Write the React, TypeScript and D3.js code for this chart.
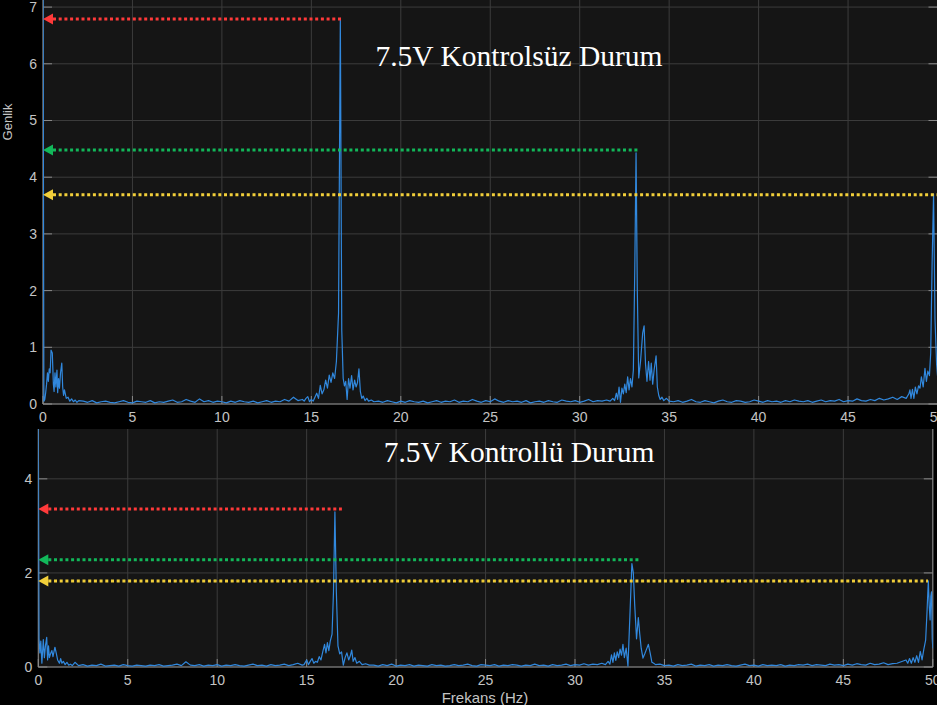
import React from "react";
import * as d3 from "d3";

const W = 937;
const H = 705;

type P = [number, number];

// ---------- shared axis ticks ----------
const xTicks = [0, 5, 10, 15, 20, 25, 30, 35, 40, 45, 50];
const topYTicks = [0, 1, 2, 3, 4, 5, 6, 7];
const bottomYTicks = [0, 2, 4];

const topTitle = "7.5V Kontrolsüz Durum";
const bottomTitle = "7.5V Kontrollü Durum";
const xLabel = "Frekans (Hz)";
const yLabel = "Genlik";

// ---------- TOP panel (uncontrolled) ----------
const topLow: P[] = [
  [0, 7.6], [0.05, 0.05], [0.1, 0.08], [0.15, 0.2], [0.2, 0.35], [0.25, 0.55], [0.3, 0.4],
  [0.35, 0.62], [0.4, 0.55], [0.45, 0.95], [0.52, 0.9], [0.58, 0.35], [0.62, 0.22],
  [0.67, 0.55], [0.72, 0.3], [0.78, 0.6], [0.82, 0.2], [0.87, 0.45], [0.92, 0.28],
  [0.98, 0.55], [1.05, 0.72], [1.1, 0.3], [1.15, 0.15], [1.2, 0.25], [1.3, 0.1],
  [1.4, 0.12], [1.5, 0.05], [1.6, 0.09], [1.7, 0.04], [1.8, 0.07], [1.9, 0.03], [2.0, 0.06],
];
const topNoiseAStart = 2.25;
const topNoiseA = [
  0.05, 0.03, 0.06, 0.02, 0.04, 0.05, 0.03, 0.02, 0.04, 0.06, 0.03, 0.02, 0.05, 0.04, 0.03,
  0.06, 0.02, 0.04, 0.03, 0.05, 0.07, 0.03, 0.04, 0.08, 0.05, 0.03, 0.09, 0.04, 0.06, 0.03,
  0.05, 0.04, 0.02, 0.05, 0.03, 0.06, 0.04, 0.03, 0.05, 0.02, 0.04, 0.06, 0.03, 0.05, 0.04,
  0.08, 0.05, 0.12, 0.06, 0.08,
];
const topPeak1: P[] = [
  [14.6, 0.05], [14.7, 0.1], [14.8, 0.13], [14.9, 0.04], [15.0, 0.08], [15.1, 0.05],
  [15.2, 0.12], [15.3, 0.19], [15.4, 0.1], [15.5, 0.33], [15.6, 0.18], [15.7, 0.25],
  [15.8, 0.42], [15.9, 0.28], [16.0, 0.51], [16.1, 0.38], [16.2, 0.55], [16.3, 0.45],
  [16.4, 0.75], [16.52, 1.6], [16.62, 6.8], [16.7, 1.3], [16.78, 0.45], [16.85, 0.32],
  [16.92, 0.4], [17.0, 0.08], [17.08, 0.45], [17.16, 0.28], [17.25, 0.5], [17.33, 0.25],
  [17.42, 0.42], [17.5, 0.3], [17.58, 0.38], [17.66, 0.62], [17.74, 0.22], [17.82, 0.1],
  [17.9, 0.14], [18.0, 0.06], [18.1, 0.1], [18.2, 0.05], [18.35, 0.07], [18.5, 0.04],
];
const topNoiseBStart = 18.75;
const topNoiseB = [
  0.05, 0.03, 0.06, 0.04, 0.02, 0.05, 0.03, 0.06, 0.04, 0.03, 0.05, 0.02, 0.04, 0.06, 0.03,
  0.05, 0.04, 0.07, 0.03, 0.05, 0.04, 0.08, 0.05, 0.03, 0.06, 0.04, 0.09, 0.05, 0.03, 0.06,
  0.04, 0.05, 0.03, 0.06, 0.02, 0.04, 0.05, 0.03, 0.06, 0.04, 0.03, 0.07, 0.05, 0.04, 0.06,
  0.03, 0.05, 0.08, 0.04, 0.06, 0.05, 0.07,
];
const topPeak2: P[] = [
  [31.7, 0.05], [31.85, 0.1], [31.95, 0.06], [32.05, 0.19], [32.12, 0.08], [32.2, 0.3],
  [32.28, 0.03], [32.36, 0.28], [32.44, 0.18], [32.52, 0.35], [32.6, 0.2], [32.68, 0.48],
  [32.76, 0.25], [32.84, 0.45], [32.92, 0.3], [33.0, 0.6], [33.08, 2.4], [33.15, 4.43],
  [33.22, 2.0], [33.3, 0.46], [33.4, 0.75], [33.52, 1.25], [33.6, 1.38], [33.68, 0.7],
  [33.76, 0.4], [33.85, 0.75], [33.93, 0.42], [34.0, 0.72], [34.08, 0.35], [34.16, 0.6],
  [34.27, 0.85], [34.34, 0.3], [34.42, 0.15], [34.5, 0.08], [34.6, 0.12], [34.7, 0.06],
  [34.85, 0.1], [35.0, 0.05],
];
const topNoiseCStart = 35.25;
const topNoiseC = [
  0.04, 0.06, 0.03, 0.05, 0.08, 0.04, 0.03, 0.06, 0.04, 0.02, 0.05, 0.07, 0.04, 0.03, 0.06,
  0.05, 0.03, 0.04, 0.07, 0.05, 0.03, 0.06, 0.04, 0.05, 0.03, 0.06, 0.04, 0.07, 0.05, 0.04,
  0.06, 0.03, 0.05, 0.07, 0.04, 0.06, 0.05, 0.08, 0.04, 0.06, 0.05, 0.09, 0.06, 0.05, 0.08,
  0.06, 0.1, 0.07, 0.09, 0.12, 0.08, 0.13, 0.1,
];
const topPeak3: P[] = [
  [48.4, 0.18], [48.46, 0.25], [48.52, 0.1], [48.6, 0.26], [48.68, 0.1], [48.76, 0.3],
  [48.85, 0.18], [48.94, 0.32], [49.02, 0.28], [49.1, 0.48], [49.2, 0.3], [49.3, 0.63],
  [49.38, 0.4], [49.46, 0.58], [49.55, 0.5], [49.62, 0.9], [49.7, 2.5], [49.78, 3.7],
  [49.86, 1.5], [49.95, 0.7], [50.0, 0.5],
];

// ---------- BOTTOM panel (controlled) ----------
const botLow: P[] = [
  [0, 5.3], [0.04, 0.6], [0.09, 0.3], [0.14, 0.55], [0.2, 0.08], [0.28, 0.58], [0.34, 0.2],
  [0.4, 0.45], [0.47, 0.63], [0.52, 0.15], [0.57, 0.45], [0.62, 0.2], [0.7, 0.3],
  [0.76, 0.35], [0.82, 0.22], [0.93, 0.42], [1.0, 0.3], [1.08, 0.15], [1.18, 0.08],
  [1.25, 0.18], [1.32, 0.08], [1.4, 0.12], [1.5, 0.05], [1.6, 0.1], [1.7, 0.04],
  [1.8, 0.06], [1.9, 0.03], [2.05, 0.1],
];
const botNoiseAStart = 2.25;
const botNoiseA = [
  0.03, 0.05, 0.02, 0.04, 0.03, 0.06, 0.02, 0.03, 0.04, 0.02, 0.05, 0.03, 0.02, 0.04, 0.03,
  0.02, 0.04, 0.03, 0.05, 0.02, 0.03, 0.04, 0.06, 0.03, 0.11, 0.04, 0.03, 0.05, 0.02, 0.04,
  0.03, 0.05, 0.02, 0.04, 0.03, 0.05, 0.03, 0.02, 0.04, 0.06, 0.03, 0.04, 0.02, 0.05, 0.03,
  0.04, 0.06, 0.03, 0.05, 0.08, 0.04,
];
const botPeak1: P[] = [
  [14.85, 0.05], [15.0, 0.15], [15.1, 0.05], [15.2, 0.12], [15.3, 0.18], [15.4, 0.08],
  [15.5, 0.12], [15.6, 0.1], [15.7, 0.22], [15.8, 0.15], [15.9, 0.32], [16.0, 0.48],
  [16.08, 0.3], [16.16, 0.52], [16.24, 0.35], [16.32, 0.55], [16.42, 0.7], [16.5, 1.6],
  [16.58, 3.3], [16.66, 1.6], [16.75, 0.45], [16.85, 0.28], [16.95, 0.32], [17.05, 0.04],
  [17.15, 0.2], [17.25, 0.3], [17.35, 0.15], [17.45, 0.25], [17.52, 0.36], [17.6, 0.12],
  [17.7, 0.2], [17.8, 0.08], [17.95, 0.12], [18.1, 0.05], [18.3, 0.07], [18.5, 0.04],
];
const botNoiseBStart = 18.75;
const botNoiseB = [
  0.04, 0.02, 0.05, 0.03, 0.06, 0.02, 0.04, 0.03, 0.05, 0.02, 0.04, 0.03, 0.02, 0.05, 0.03,
  0.04, 0.02, 0.03, 0.05, 0.03, 0.04, 0.06, 0.03, 0.02, 0.05, 0.04, 0.03, 0.05, 0.02, 0.04,
  0.03, 0.05, 0.04, 0.02, 0.04, 0.03, 0.06, 0.03, 0.04, 0.02, 0.05, 0.03, 0.04, 0.06, 0.03,
  0.05, 0.04, 0.07, 0.04, 0.06, 0.05, 0.08,
];
const botPeak2: P[] = [
  [31.7, 0.05], [31.85, 0.12], [31.95, 0.06], [32.04, 0.26], [32.12, 0.1], [32.2, 0.3],
  [32.28, 0.14], [32.36, 0.32], [32.44, 0.2], [32.52, 0.38], [32.6, 0.25], [32.68, 0.48],
  [32.76, 0.2], [32.86, 0.4], [32.96, 0.02], [33.08, 1.2], [33.18, 2.2], [33.26, 2.0],
  [33.34, 1.3], [33.44, 0.6], [33.54, 1.05], [33.62, 0.7], [33.7, 0.4], [33.8, 0.19],
  [33.9, 0.28], [34.0, 0.38], [34.1, 0.48], [34.2, 0.3], [34.3, 0.1], [34.4, 0.08],
  [34.5, 0.05],
];
const botNoiseCStart = 34.75;
const botNoiseC = [
  0.06, 0.03, 0.04, 0.02, 0.05, 0.03, 0.04, 0.06, 0.02, 0.04, 0.03, 0.05, 0.02, 0.04, 0.03,
  0.05, 0.03, 0.02, 0.04, 0.06, 0.03, 0.04, 0.02, 0.05, 0.03, 0.04, 0.03, 0.05, 0.02, 0.04,
  0.03, 0.05, 0.04, 0.06, 0.03, 0.05, 0.04, 0.03, 0.06, 0.04, 0.05, 0.03, 0.06, 0.04, 0.07,
  0.05, 0.04, 0.08, 0.05, 0.06, 0.09, 0.05, 0.07, 0.08,
];
const botPeak3: P[] = [
  [48.5, 0.15], [48.6, 0.08], [48.7, 0.18], [48.8, 0.08], [48.9, 0.2], [49.0, 0.1],
  [49.1, 0.24], [49.2, 0.1], [49.3, 0.33], [49.4, 0.15], [49.5, 0.38], [49.6, 0.57],
  [49.68, 1.2], [49.75, 1.83], [49.8, 1.3], [49.85, 1.0], [49.89, 1.5], [49.93, 1.6],
  [49.97, 0.6], [50.0, 0.4],
];

// ---------- annotation arrows [amplitude, end frequency] ----------
const arrowColors = ["#ff3a3a", "#12b85a", "#f2cf3a"];
const topArrowLevels = [6.79, 4.48, 3.69];
const topArrowEnds = [16.71, 33.37, 50.2];
const botArrowLevels = [3.36, 2.28, 1.83];
const botArrowEnds = [16.97, 33.63, 49.73];

const seg = (start: number, step: number, vals: number[]): P[] =>
  vals.map((v, i) => [start + i * step, v] as P);

const topSeries: P[] = [
  ...topLow,
  ...seg(topNoiseAStart, 0.25, topNoiseA),
  ...topPeak1,
  ...seg(topNoiseBStart, 0.25, topNoiseB),
  ...topPeak2,
  ...seg(topNoiseCStart, 0.25, topNoiseC),
  ...topPeak3,
];
const botSeries: P[] = [
  ...botLow,
  ...seg(botNoiseAStart, 0.25, botNoiseA),
  ...botPeak1,
  ...seg(botNoiseBStart, 0.25, botNoiseB),
  ...botPeak2,
  ...seg(botNoiseCStart, 0.25, botNoiseC),
  ...botPeak3,
];

const AX_BG = "#151515";
const GRID = "#3c3c3c";
const AXIS = "#8a8a8a";
const TICKTXT = "#c4c4c4";
const LINE = "#3188dd";
const SANS = "'Liberation Sans', Arial, Helvetica, sans-serif";
const SERIF = "'Liberation Serif', 'Times New Roman', serif";

type PanelProps = {
  id: string;
  left: number;
  right: number;
  top: number;
  bottom: number;
  yMax: number;
  yTicks: number[];
  series: P[];
  levels: number[];
  ends: number[];
  title: string;
  titleY: number;
  showXLabel: boolean;
};

function Panel(p: PanelProps) {
  const x = d3.scaleLinear().domain([0, 50]).range([p.left, p.right]);
  const y = d3.scaleLinear().domain([0, p.yMax]).range([p.bottom, p.top]);
  const line = d3
    .line<P>()
    .x((d) => x(d[0]))
    .y((d) => y(d[1]));
  const w = p.right - p.left;
  const h = p.bottom - p.top;
  return (
    <g>
      <defs>
        <clipPath id={`clip-${p.id}`}>
          <rect x={p.left} y={p.top} width={w} height={h} />
        </clipPath>
      </defs>
      <rect x={p.left} y={p.top} width={w} height={h} fill={AX_BG} />
      {xTicks.map((t) => (
        <line key={`gx${t}`} x1={x(t)} x2={x(t)} y1={p.top} y2={p.bottom} stroke={GRID} strokeWidth={1} />
      ))}
      {p.yTicks.map((t) => (
        <line key={`gy${t}`} x1={p.left} x2={p.right} y1={y(t)} y2={y(t)} stroke={GRID} strokeWidth={1} />
      ))}
      {/* axes lines */}
      <line x1={p.left} x2={p.right} y1={p.bottom} y2={p.bottom} stroke={AXIS} strokeWidth={1} />
      <line x1={p.left} x2={p.left} y1={p.top} y2={p.bottom} stroke={AXIS} strokeWidth={1} />
      <line x1={p.right} x2={p.right} y1={p.top} y2={p.bottom} stroke={AXIS} strokeWidth={1} />
      {/* tick marks */}
      {xTicks.map((t) => (
        <line key={`tx${t}`} x1={x(t)} x2={x(t)} y1={p.bottom} y2={p.bottom - 8} stroke={AXIS} strokeWidth={1} />
      ))}
      {p.yTicks.map((t) => (
        <g key={`ty${t}`}>
          <line x1={p.left} x2={p.left + 9} y1={y(t)} y2={y(t)} stroke={AXIS} strokeWidth={1} />
          <line x1={p.right} x2={p.right - 9} y1={y(t)} y2={y(t)} stroke={AXIS} strokeWidth={1} />
        </g>
      ))}
      {/* tick labels */}
      {xTicks.map((t) => (
        <text
          key={`lx${t}`}
          x={x(t)}
          y={p.bottom + 18}
          textAnchor="middle"
          fontFamily={SANS}
          fontSize={14}
          fill={TICKTXT}
        >
          {t}
        </text>
      ))}
      {p.yTicks.map((t) => (
        <text
          key={`ly${t}`}
          x={p.left - 6}
          y={y(t) + 5}
          textAnchor="end"
          fontFamily={SANS}
          fontSize={14}
          fill={TICKTXT}
        >
          {t}
        </text>
      ))}
      {/* signal */}
      <path
        d={line(p.series) || ""}
        fill="none"
        stroke={LINE}
        strokeWidth={1.2}
        strokeLinejoin="round"
        clipPath={`url(#clip-${p.id})`}
      />
      {/* arrows */}
      {p.levels.map((lv, i) => {
        const yy = y(lv);
        const x0 = p.left;
        const xe = Math.min(x(p.ends[i]), W);
        return (
          <g key={`ar${i}`}>
            <line
              x1={x0 + 10}
              x2={xe}
              y1={yy}
              y2={yy}
              stroke={arrowColors[i]}
              strokeWidth={3}
              strokeDasharray="3 2.7"
            />
            <polygon
              points={`${x0},${yy} ${x0 + 10},${yy - 5.5} ${x0 + 10},${yy + 5.5}`}
              fill={arrowColors[i]}
            />
          </g>
        );
      })}
      {/* title */}
      <text
        x={519}
        y={p.titleY}
        textAnchor="middle"
        fontFamily={SERIF}
        fontSize={29.5}
        fill="#ffffff"
      >
        {p.title}
      </text>
    </g>
  );
}

export default function App() {
  return (
    <svg
      width={W}
      height={H}
      viewBox={`0 0 ${W} ${H}`}
      style={{ position: "absolute", left: 0, top: 0, display: "block", background: "#000" }}
    >
      <rect x={0} y={0} width={W} height={H} fill="#000" />
      <Panel
        id="top"
        left={43}
        right={937.5}
        top={0}
        bottom={404}
        yMax={7.125}
        yTicks={topYTicks}
        series={topSeries}
        levels={topArrowLevels}
        ends={topArrowEnds}
        title={topTitle}
        titleY={66}
        showXLabel={false}
      />
      <Panel
        id="bot"
        left={38.3}
        right={932.8}
        top={429}
        bottom={667}
        yMax={5.06}
        yTicks={bottomYTicks}
        series={botSeries}
        levels={botArrowLevels}
        ends={botArrowEnds}
        title={bottomTitle}
        titleY={462}
        showXLabel={true}
      />
      <text
        x={0}
        y={0}
        transform="translate(12,122) rotate(-90)"
        textAnchor="middle"
        fontFamily={SANS}
        fontSize={13}
        fill={TICKTXT}
      >
        {yLabel}
      </text>
      <text x={485} y={703} textAnchor="middle" fontFamily={SANS} fontSize={15} fill={TICKTXT}>
        {xLabel}
      </text>
    </svg>
  );
}
